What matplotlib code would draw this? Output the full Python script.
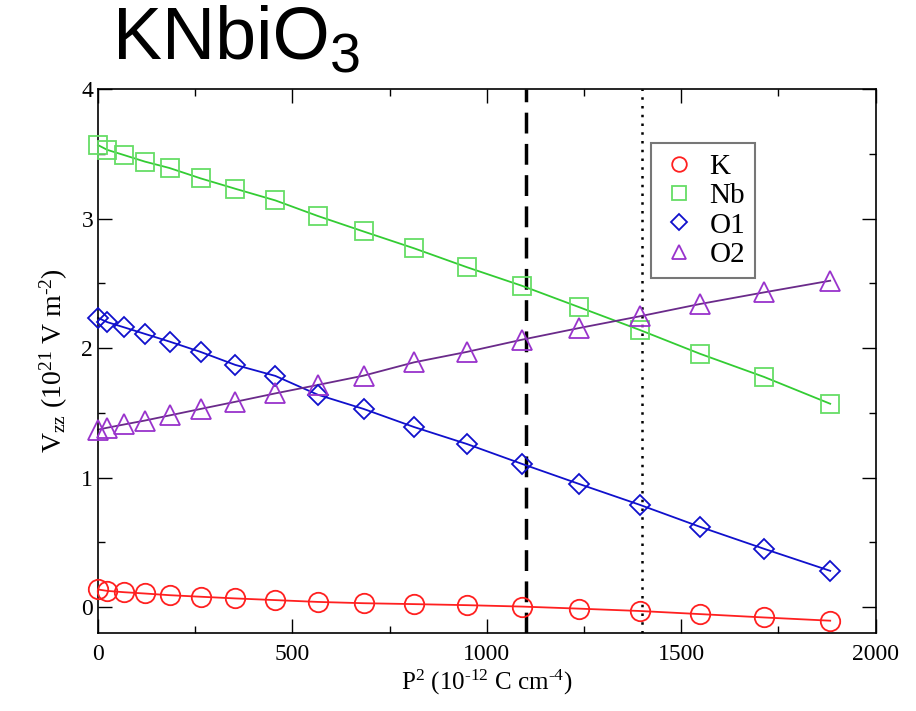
import matplotlib
matplotlib.use("Agg")
import matplotlib.pyplot as plt
from matplotlib.ticker import MultipleLocator

p2 = [0, 24, 67, 120, 184, 264, 353, 456, 565, 683, 813, 948, 1091, 1238, 1393, 1548, 1713, 1883]
K = [0.136, 0.125, 0.115, 0.105, 0.092, 0.080, 0.067, 0.054, 0.040, 0.030, 0.023, 0.015, 0.004, -0.012, -0.030, -0.054, -0.080, -0.105]
Nb = [3.567, 3.53, 3.49, 3.44, 3.39, 3.31, 3.23, 3.14, 3.02, 2.90, 2.77, 2.625, 2.48, 2.315, 2.14, 1.956, 1.777, 1.57]
O1 = [2.233, 2.20, 2.16, 2.11, 2.05, 1.97, 1.87, 1.785, 1.64, 1.53, 1.39, 1.26, 1.105, 0.95, 0.79, 0.62, 0.45, 0.28]
O2 = [1.37, 1.385, 1.41, 1.44, 1.48, 1.53, 1.585, 1.65, 1.715, 1.787, 1.89, 1.97, 2.065, 2.155, 2.245, 2.34, 2.43, 2.52]
vlines = [1100, 1400]

plt.rcParams['font.family'] = ['Liberation Serif', 'DejaVu Serif']
plt.rcParams['mathtext.fontset'] = 'custom'
plt.rcParams['mathtext.rm'] = 'Liberation Serif'
plt.rcParams['mathtext.it'] = 'Liberation Serif'
plt.rcParams['mathtext.default'] = 'regular'

fig = plt.figure(figsize=(9.16, 7.11), dpi=100)
ax = fig.add_axes([0.107, 0.1097, 0.849, 0.7651])

series = [
    ("K", K, 'o', '#ff2020', '#ff2020', 14),
    ("Nb", Nb, 's', '#66dd66', '#33cc33', 13),
    ("O1", O1, 'D', '#1010cc', '#1010cc', 10.5),
    ("O2", O2, '^', '#9933cc', '#6a2a8a', 14),
]
for name, ys, m, mc, lc, ms in series:
    ax.plot(p2, ys, '-', color=lc, lw=1.3, zorder=2, clip_on=False)
    ax.plot(p2, ys, linestyle='none', marker=m, ms=ms,
            mfc='none', mec=mc, mew=1.3, label=name, zorder=3, clip_on=False)

ax.axvline(vlines[0], color='black', lw=2.5, ls=(0, (6, 3)), zorder=1)
ax.axvline(vlines[1], color='black', lw=1.8, ls=(0, (1, 2.5)), zorder=1)

ax.set_xlim(0, 2000)
ax.set_ylim(-0.2, 4)
ax.xaxis.set_major_locator(MultipleLocator(500))
ax.xaxis.set_minor_locator(MultipleLocator(250))
ax.yaxis.set_major_locator(MultipleLocator(1))
ax.yaxis.set_minor_locator(MultipleLocator(0.5))
ax.tick_params(which='both', direction='in', top=True, right=True, labelsize=17)
ax.tick_params(which='major', length=10, width=1)
ax.tick_params(which='minor', length=5, width=1)
ax.tick_params(axis='x', pad=8)
for s in ax.spines.values():
    s.set_linewidth(1.2)

ax.set_xlabel("P$^{2}$ (10$^{\u2010 12}$ C cm$^{\u2010 4}$)", fontsize=18, labelpad=2)
ax.set_ylabel("V$_{zz}$ (10$^{21}$ V m$^{\u2010 2}$)", fontsize=20, labelpad=8)

leg = ax.legend(loc='upper left', bbox_to_anchor=(0.711, 0.90), fontsize=21,
                frameon=True, fancybox=False, edgecolor='#555555', markerscale=0.75,
                handletextpad=0.45, borderpad=0.35, labelspacing=0.1, handlelength=1.2,
                borderaxespad=0)
leg.get_frame().set_linewidth(1.5)

fig.text(0.123, 0.945, "KNbiO", fontsize=53, family='Liberation Sans', va='center', ha='left')
fig.text(0.360, 0.918, "3", fontsize=40, family='Liberation Sans', va='center', ha='left')

fig.savefig("out.png", dpi=100)
